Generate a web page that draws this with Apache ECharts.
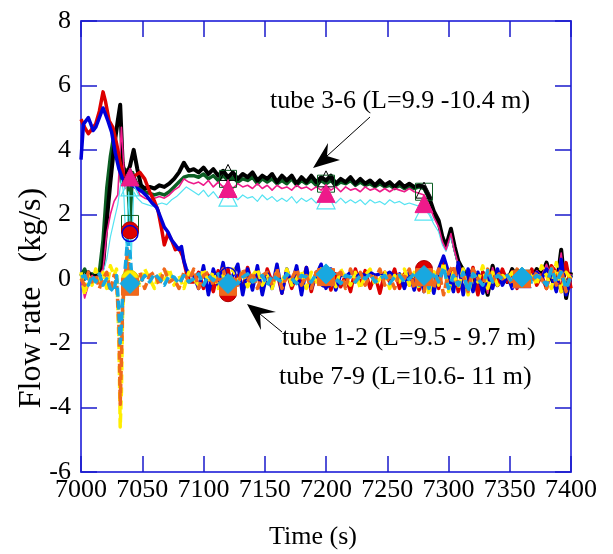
<!DOCTYPE html>
<html><head><meta charset="utf-8">
<script src="https://cdn.jsdelivr.net/npm/echarts@6/dist/echarts.min.js"></script>
<style>html,body{margin:0;padding:0;background:#fff}#c{width:613px;height:554px}</style>
</head><body><div id="c"></div>
<script>
// ---------- DATA ----------
const xTicks = [7000,7050,7100,7150,7200,7250,7300,7350,7400];
const yTicks = [-6,-4,-2,0,2,4,6,8];
const markTimes = [7040, 7120, 7200, 7280, 7360];

// tube 3-6 (black, green, magenta, cyan)
const blackHead = [[7000,0.15],[7003,0.0],[7006,0.2],[7009,0.05],[7012,0.1],[7015,0.0],[7018,0.4],[7021,1.8],[7024,3.0],[7027,4.1],[7030,4.9],[7032,5.4],[7034,3.6],[7036,3.1],[7038,3.3],[7040,3.5],[7043,4.0],[7046,3.4],[7049,2.9],[7052,2.8],[7056,2.85],[7060,2.8],[7064,2.9],[7068,2.85],[7072,2.95],[7076,3.1],[7080,3.3],[7084,3.6],[7088,3.35]];
const blackPlateau = [3.4,3.3,3.45,3.25,3.4,3.2,3.35,3.15,3.3,3.1,3.25,3.15,3.3,3.05,3.2,3.1,3.25,3.0,3.2,3.05,3.2,2.95,3.15,3.0,3.2,3.0,3.15,3.05,3.2,2.95,3.1,3.0,3.15,2.95,3.1,2.95,3.05,2.9,3.05,2.9,3.0,2.85,3.0,2.85,2.95,2.85,2.9,2.85];
const blackDrop = [[7284,2.55],[7288,2.1],[7292,1.8],[7295,1.3],[7298,1.0],[7302,1.55],[7305,1.0],[7308,0.55],[7312,0.25]];
const blackTail = [-0.1,0.2,-0.4,0.1,-0.5,0.4,-0.2,0.1,-0.1,0.3,0.0,-0.1,0.1,0.0,0.3,0.1,0.5,0.0,-0.3,0.9,-0.6,0.2];

const greenHead = [[7000,0.1],[7003,0.3],[7006,0.0],[7009,0.15],[7012,0.05],[7015,0.2],[7018,1.2],[7021,2.8],[7024,3.8],[7027,4.5],[7030,3.9],[7033,3.0],[7036,3.4],[7038,3.2],[7040,1.7],[7042,3.3],[7045,3.0],[7048,2.8],[7052,2.7],[7056,2.65],[7060,2.6],[7064,2.65],[7068,2.6],[7072,2.7],[7076,2.85],[7080,3.0],[7084,3.15],[7088,3.2]];
const greenPlateau = [3.2,3.15,3.25,3.1,3.2,3.05,3.2,3.05,3.15,3.0,3.1,3.05,3.15,2.95,3.1,3.0,3.1,2.95,3.05,2.95,3.1,2.9,3.05,2.95,3.05,2.9,3.05,2.95,3.05,2.9,3.0,2.95,3.05,2.9,3.0,2.9,2.95,2.85,2.95,2.85,2.9,2.8,2.9,2.8,2.85,2.8,2.85,2.8];
const greenDrop = [[7284,2.5],[7288,2.05],[7292,1.7],[7295,1.25],[7298,1.0],[7302,1.45],[7305,0.95],[7308,0.5],[7312,0.3]];
const greenTail = [0.0,0.3,-0.3,0.2,-0.4,0.3,-0.1,0.2,0.0,0.2,0.1,0.0,0.1,0.05,0.2,0.1,0.4,0.1,-0.2,0.7,-0.4,0.1];

const magentaHead = [[7000,0.0],[7003,-0.6],[7006,-0.2],[7009,0.1],[7012,0.0],[7015,0.1],[7018,0.3],[7021,1.4],[7024,2.0],[7027,2.4],[7030,2.6],[7033,4.7],[7036,2.8],[7039,3.3],[7042,3.2],[7045,2.9],[7048,2.6],[7052,2.5],[7056,2.45],[7060,2.5],[7064,2.55],[7068,2.5],[7072,2.6],[7076,2.75],[7080,2.85],[7084,3.1],[7088,3.0]];
const magentaPlateau = [2.95,3.0,2.9,3.05,2.85,3.0,2.85,2.95,2.8,2.95,2.85,2.9,2.8,2.95,2.8,2.9,2.75,2.9,2.8,2.85,2.75,2.9,2.8,2.85,2.75,2.85,2.75,2.9,2.75,2.85,2.7,2.85,2.75,2.8,2.7,2.85,2.75,2.8,2.7,2.8,2.7,2.8,2.75,2.7,2.8,2.7,2.65,2.6];
const magentaDrop = [[7284,2.3],[7288,1.9],[7292,1.6],[7295,1.15],[7298,0.9],[7302,1.4],[7305,0.85],[7308,0.45],[7312,0.2]];
const magentaTail = [-0.1,0.25,-0.35,0.15,-0.45,0.35,-0.15,0.15,-0.05,0.25,0.05,-0.05,0.1,0.0,0.25,0.1,0.45,0.05,-0.25,0.8,-0.5,0.15];

const cyanHead = [[7000,0.05],[7005,0.1],[7010,0.0],[7015,0.05],[7018,0.2],[7021,0.6],[7024,1.3],[7027,1.8],[7030,2.3],[7033,3.1],[7035,2.6],[7037,0.8],[7039,2.7],[7041,0.6],[7043,2.7],[7046,2.5],[7050,2.35],[7054,2.3],[7058,2.25],[7062,2.3],[7066,2.35],[7070,2.3],[7074,2.45],[7078,2.55],[7082,2.7],[7086,2.85]];
const cyanPlateau = [2.7,2.6,2.75,2.55,2.7,2.5,2.65,2.5,2.6,2.45,2.6,2.5,2.55,2.4,2.6,2.45,2.55,2.4,2.5,2.4,2.55,2.35,2.5,2.4,2.5,2.35,2.5,2.4,2.45,2.35,2.5,2.35,2.45,2.35,2.45,2.3,2.45,2.35,2.4,2.3,2.45,2.35,2.4,2.3,2.35,2.3,2.25,2.2];
const cyanDrop = [[7284,2.0],[7288,1.7],[7292,1.45],[7295,1.05],[7298,0.85],[7302,1.3],[7305,0.8],[7308,0.4],[7312,0.15]];
const cyanTail = [-0.15,0.2,-0.3,0.1,-0.4,0.3,-0.2,0.1,-0.1,0.2,0.0,-0.1,0.05,-0.05,0.2,0.05,0.35,0.0,-0.3,0.6,-0.45,0.1];

// tube 1-2 (red, blue)
const redHead = [[7000,4.95],[7003,4.7],[7006,4.5],[7009,4.65],[7012,4.8],[7015,5.2],[7018,5.8],[7020,5.5],[7023,4.9],[7026,4.7],[7029,4.2],[7032,3.6],[7035,3.2],[7038,3.0],[7040,2.95],[7044,3.2],[7048,3.3],[7052,3.1],[7056,2.7],[7060,2.4],[7063,2.1],[7066,1.5],[7068,1.05],[7071,1.4],[7074,1.2],[7077,0.9],[7080,0.95],[7083,0.7],[7086,0.2],[7089,-0.1]];
const redNoise = [-0.1,0.2,-0.3,0.1,-0.4,0.25,-0.2,0.3,-0.45,0.1,-0.3,0.35,-0.2,0.15,-0.4,0.3,-0.1,0.2,-0.45,0.25,-0.3,0.1,-0.2,0.35,-0.4,0.2,-0.1,0.3,-0.35,0.15,-0.25,0.1,-0.4,0.3,-0.2,0.25,-0.3,0.1,-0.45,0.2,-0.1,0.3,-0.3,0.15,-0.2,0.1,-0.35,0.25,-0.15,0.2,-0.3,0.5,-0.25,0.3,-0.4,0.15,-0.2,0.35,-0.5,0.2,-0.3,0.1,-0.2,0.3,-0.1,0.2,-0.3,0.25,-0.15,0.3,-0.2,0.1,-0.3,0.4,0.2,-0.4,0.5,-0.3];
const blueHead = [[7000,3.7],[7002,4.8],[7004,4.9],[7006,5.0],[7008,4.8],[7010,4.6],[7012,4.7],[7014,4.9],[7016,5.1],[7018,5.3],[7020,5.1],[7022,4.9],[7025,4.55],[7028,3.9],[7031,3.4],[7034,3.1],[7038,2.95],[7042,2.9],[7046,2.8],[7050,2.7],[7054,2.55],[7058,2.35],[7062,2.2],[7065,1.9],[7068,1.6],[7071,1.45],[7074,1.2],[7077,1.05],[7080,0.9],[7082,1.0],[7084,0.55],[7086,0.3],[7089,0.1]];
const blueNoise = [0.1,-0.3,0.4,-0.5,0.3,-0.2,0.5,-0.4,0.1,0.45,-0.5,0.3,-0.35,0.4,-0.5,0.2,-0.3,0.45,-0.45,0.3,-0.2,0.4,-0.5,0.35,-0.3,0.1,0.45,-0.3,0.3,-0.35,0.15,0.05,0.2,0.1,0.15,0.1,0.2,0.1,0.15,0.1,0.2,0.05,0.15,-0.3,0.2,-0.35,0.3,-0.4,0.2,-0.45,0.3,0.7,0.2,-0.4,0.5,-0.5,0.3,-0.4,0.2,-0.45,0.1,-0.3,0.3,-0.2,0.1,-0.3,0.2,0.0,0.1,0.05,0.2,0.0,0.3,0.1,-0.4,0.6,-0.5,0.1];

// tube 7-9 (yellow, orange, light blue) dashed
const yellowHead = [[7000,0.2],[7003,-0.5],[7006,0.1],[7009,-0.2],[7012,0.3],[7015,-0.1],[7018,0.2],[7021,-0.3],[7024,0.4],[7027,0.1],[7029,0.3],[7031,-2.0],[7032,-4.6],[7033,-3.5],[7034,-1.0],[7036,0.2],[7038,0.8],[7040,0.3],[7042,-0.1]];
const yellowNoise = [0.1,-0.2,0.3,0.0,-0.3,0.2,-0.1,0.3,-0.2,0.1,-0.3,0.2,0.0,-0.2,0.3,-0.1,0.2,-0.3,0.1,-0.2,0.3,-0.1,0.2,-0.25,0.1,0.3,-0.2,0.1,-0.3,0.2,-0.1,0.3,-0.2,0.0,0.25,-0.3,0.2,-0.1,0.3,-0.2,0.1,-0.25,0.3,0.0,-0.2,0.2,-0.3,0.1,0.3,-0.2,0.0,0.2,-0.3,0.1,-0.1,0.3,-0.2,0.2,-0.3,0.4,-0.5,0.3,-0.2,0.5,-0.4,0.2,-0.3,0.3,-0.5,0.2,-0.1,0.4,-0.3,0.2,-0.2,0.1,0.0,0.2,-0.1,0.3,0.0,0.2,-0.2,0.4,0.1,-0.3,0.5,-0.4,0.2,0.0];
const orangeHead = [[7000,0.0],[7003,-0.2],[7006,0.2],[7009,-0.1],[7012,0.1],[7015,-0.3],[7018,0.0],[7021,0.2],[7024,-0.4],[7027,0.1],[7029,0.0],[7031,-1.5],[7032,-3.9],[7033,-2.5],[7034,-0.8],[7036,0.0],[7038,0.9],[7040,0.0],[7042,-0.2]];
const orangeNoise = [-0.1,0.2,-0.3,0.1,0.2,-0.2,0.3,-0.1,0.0,-0.3,0.2,-0.1,0.3,-0.3,0.1,0.2,-0.2,0.0,0.3,-0.3,0.1,-0.2,0.3,-0.1,0.2,-0.3,0.1,0.2,-0.2,0.3,-0.3,0.1,0.0,0.3,-0.2,0.1,-0.3,0.2,0.0,0.3,-0.2,0.1,0.2,-0.3,0.3,-0.1,0.2,-0.2,0.1,0.0,0.3,-0.2,0.1,-0.3,0.2,0.0,0.3,-0.3,0.1,-0.4,0.4,-0.3,0.3,-0.5,0.2,0.4,-0.2,0.1,-0.4,0.3,0.0,-0.2,0.3,-0.1,0.2,0.0,0.1,-0.2,0.3,0.0,0.3,-0.1,0.2,0.0,-0.3,0.4,-0.2,0.3,-0.4,0.1];
const ltblueHead = [[7000,0.05],[7003,0.1],[7006,-0.2],[7009,0.1],[7012,-0.1],[7015,0.15],[7018,-0.2],[7021,0.0],[7024,-0.3],[7027,-0.4],[7029,0.1],[7031,-1.0],[7032,-2.0],[7033,-1.4],[7034,-0.5],[7036,0.3],[7038,1.2],[7040,0.8],[7042,-0.2]];
const ltblueNoise = [0.0,-0.15,0.1,-0.1,0.15,0.0,-0.2,0.1,0.05,-0.15,0.1,-0.1,0.0,0.15,-0.2,0.1,-0.05,0.15,-0.1,0.0,0.1,-0.15,0.05,0.15,-0.1,0.0,0.1,-0.2,0.1,0.0,-0.1,0.15,0.0,-0.15,0.1,0.05,-0.1,0.15,0.0,-0.1,0.1,0.0,-0.15,0.1,0.05,-0.1,0.1,0.0,0.15,-0.1,0.0,0.1,-0.15,0.05,0.1,-0.1,0.0,0.15,-0.2,0.3,-0.3,0.2,-0.1,0.35,-0.3,0.1,-0.2,0.2,-0.4,0.15,0.0,-0.2,0.25,-0.1,0.1,0.0,0.1,-0.1,0.2,0.0,0.2,-0.1,0.1,0.0,-0.2,0.3,-0.1,0.2,-0.3,0.1];

// markers at sampled times
const blackMarks   = [3.2, 3.3, 3.1, 2.75, 0.0];
const greenMarks   = [1.7, 3.1, 2.95, 2.7, 0.0];
const cyanMarks    = [2.85, 2.53, 2.45, 2.1, 0.0];
const magentaMarks = [3.16, 2.8, 2.65, 2.33, 0.0];
const redMarks     = [1.5, -0.45, 0.0, 0.3, 0.0];
const blueMarks    = [1.4, 0.1, -0.02, 0.05, 0.0];
const yellowMarks  = [0.0, -0.2, 0.07, 0.07, 0.0];
const orangeMarks  = [-0.25, -0.25, 0.05, 0.05, 0.0];
const ltblueMarks  = [-0.15, -0.15, 0.15, 0.1, 0.05];

// ---------- BUILD ----------
const stepped = (start, step, vals) => vals.map((v, i) => [start + i * step, v]);
const blackData = blackHead.concat(stepped(7092,4,blackPlateau), blackDrop, stepped(7316,4,blackTail));
const greenData = greenHead.concat(stepped(7092,4,greenPlateau), greenDrop, stepped(7316,4,greenTail));
const magentaData = magentaHead.concat(stepped(7092,4,magentaPlateau), magentaDrop, stepped(7316,4,magentaTail));
const cyanData = cyanHead.concat(stepped(7092,4,cyanPlateau), cyanDrop, stepped(7316,4,cyanTail));
const redData = redHead.concat(stepped(7092,4,redNoise));
const blueData = blueHead.concat(stepped(7092,4,blueNoise));
const yellowData = yellowHead.concat(stepped(7044,4,yellowNoise));
const orangeData = orangeHead.concat(stepped(7044,4,orangeNoise));
const ltblueData = ltblueHead.concat(stepped(7044,4,ltblueNoise));
const marks = vals => vals.map((v, i) => [markTimes[i], v]);

const FONT = 'Liberation Serif';
const AX = '#4a4ae0';
function line(data, color, width, dashed) {
  return { type: 'line', data, showSymbol: false, symbol: 'none', clip: true, animation: false,
    lineStyle: { color, width, type: dashed ? [9, 4] : 'solid', join: 'round' }, z: 2 };
}
function scat(data, symbol, size, fill, stroke, bw) {
  return { type: 'scatter', data, symbol, symbolSize: size, animation: false, z: 3,
    itemStyle: { color: fill, borderColor: stroke, borderWidth: bw, opacity: 1 } };
}

const chart = echarts.init(document.getElementById('c'), null, { renderer: 'canvas' });
const tickStyle = { show: true, inside: true, length: 16, lineStyle: { color: '#1a1acc', width: 1.5 } };
chart.setOption({
  backgroundColor: '#ffffff',
  animation: false,
  grid: { left: 81, right: 42, top: 21, bottom: 82, containLabel: false },
  xAxis: [
    { type: 'value', min: 7000, max: 7400, interval: 50, position: 'bottom',
      axisLine: { show: true, onZero: false, lineStyle: { color: AX, width: 2 } },
      axisTick: tickStyle, splitLine: { show: false },
      axisLabel: { color: '#000', fontFamily: FONT, fontSize: 26, margin: 5,
        formatter: v => xTicks.includes(v) ? String(v) : '' } },
    { type: 'value', min: 7000, max: 7400, interval: 50, position: 'top',
      axisLine: { show: true, onZero: false, lineStyle: { color: AX, width: 2 } },
      axisTick: tickStyle, splitLine: { show: false }, axisLabel: { show: false } }
  ],
  yAxis: [
    { type: 'value', min: -6, max: 8, interval: 2, position: 'left',
      axisLine: { show: true, onZero: false, lineStyle: { color: AX, width: 2 } },
      axisTick: tickStyle, splitLine: { show: false },
      axisLabel: { color: '#000', fontFamily: FONT, fontSize: 26, margin: 10,
        formatter: v => yTicks.includes(v) ? String(v) : '' } },
    { type: 'value', min: -6, max: 8, interval: 2, position: 'right',
      axisLine: { show: true, onZero: false, lineStyle: { color: AX, width: 2 } },
      axisTick: tickStyle, splitLine: { show: false }, axisLabel: { show: false } }
  ],
  series: [
    line(greenData, '#0b5e23', 3.5),
    line(blackData, '#000000', 4),
    line(cyanData, '#55e3f2', 1.2),
    line(magentaData, '#ee1a8a', 1.6),
    line(redData, '#dd0000', 3.5),
    line(blueData, '#0000d8', 3.5),
    line(yellowData, '#ffee00', 3.5, true),
    line(orangeData, '#f0691c', 3.5, true),
    line(ltblueData, '#18a8e0', 3.5, true),
    scat(marks(greenMarks), 'rect', 17, 'rgba(0,0,0,0)', '#0b5e23', 1),
    scat(marks(blackMarks), 'triangle', 16, 'rgba(0,0,0,0)', '#000000', 1),
    scat(marks(cyanMarks), 'triangle', 18, 'rgba(0,0,0,0)', '#55e3f2', 1.2),
    scat(marks(magentaMarks), 'triangle', 18, '#ee1a8a', '#ee1a8a', 1),
    scat(marks(redMarks), 'circle', 17, '#dd0000', '#aa0000', 1),
    scat(marks(blueMarks), 'circle', 16, 'rgba(0,0,0,0)', '#0000d8', 1.5),
    scat(marks(yellowMarks), 'circle', 17, '#ffee00', '#ddcc00', 1),
    scat(marks(orangeMarks), 'rect', 17, '#f0691c', '#f0691c', 1),
    scat(marks(ltblueMarks), 'diamond', 20, '#18a8e0', '#18a8e0', 1)
  ],
  graphic: [
    { type: 'text', style: { text: 'Time (s)', x: 313, y: 537, fill: '#000', font: '26px "Liberation Serif"', textAlign: 'center', textVerticalAlign: 'middle' } },
    { type: 'text', rotation: Math.PI / 2, x: 32, y: 298, style: { text: 'Flow rate   (kg/s)', x: 0, y: 0, fill: '#000', font: '32px "Liberation Serif"', textAlign: 'center', textVerticalAlign: 'middle' } },
    { type: 'text', style: { text: 'tube 3-6 (L=9.9 -10.4 m)', x: 270, y: 101, fill: '#000', font: '26px "Liberation Serif"', textAlign: 'left', textVerticalAlign: 'middle' } },
    { type: 'text', style: { text: 'tube 1-2 (L=9.5 - 9.7 m)', x: 282, y: 338, fill: '#000', font: '26px "Liberation Serif"', textAlign: 'left', textVerticalAlign: 'middle' } },
    { type: 'text', style: { text: 'tube 7-9 (L=10.6- 11 m)', x: 279, y: 377, fill: '#000', font: '26px "Liberation Serif"', textAlign: 'left', textVerticalAlign: 'middle' } },
    { type: 'line', shape: { x1: 370, y1: 117, x2: 327, y2: 156 }, style: { stroke: '#000', lineWidth: 1 }, z: 10 },
    { type: 'polygon', shape: { points: [[313,168],[340,160],[327,156],[328,143]] }, style: { fill: '#000' }, z: 10 },
    { type: 'line', shape: { x1: 282, y1: 332, x2: 260, y2: 314 }, style: { stroke: '#000', lineWidth: 1 }, z: 10 },
    { type: 'polygon', shape: { points: [[247,304],[276,312],[260,314],[261,330]] }, style: { fill: '#000' }, z: 10 }
  ]
});
</script></body></html>
